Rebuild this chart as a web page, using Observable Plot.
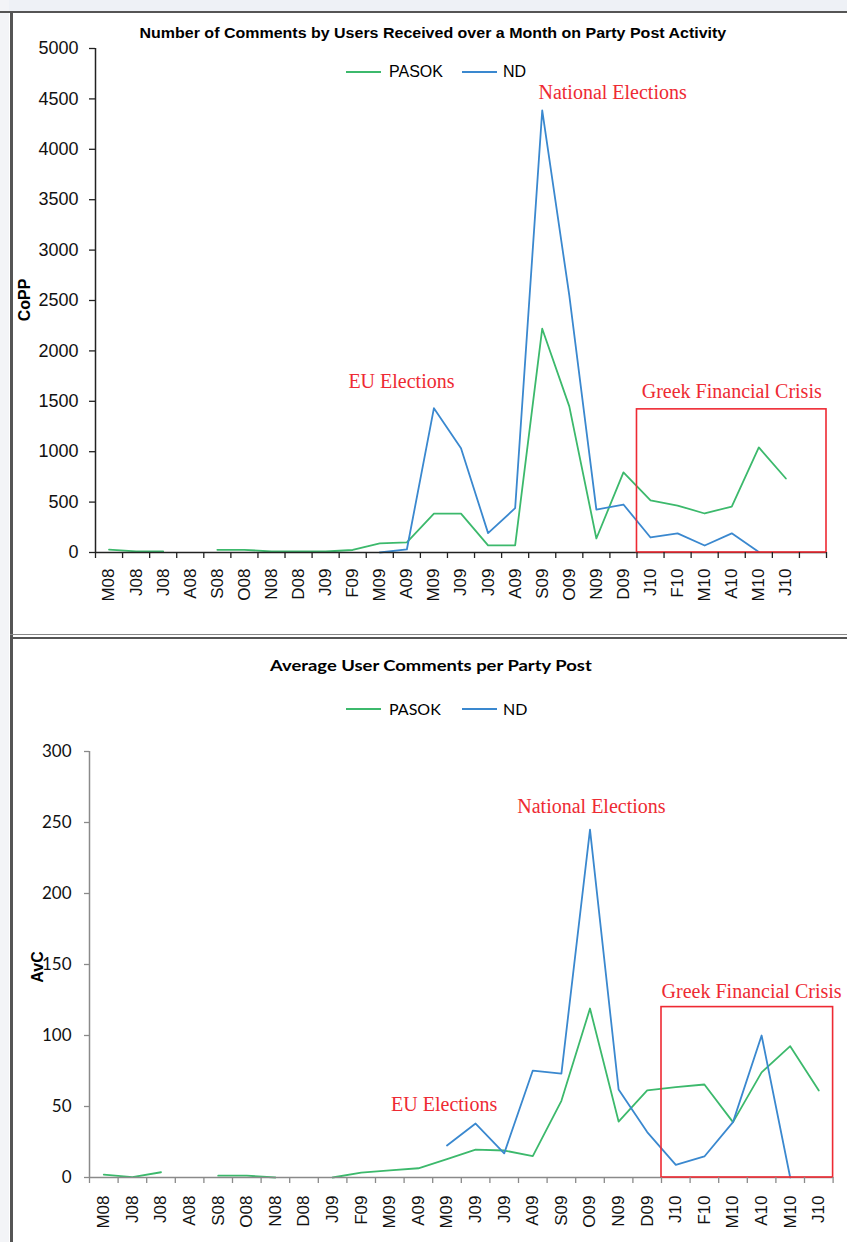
<!DOCTYPE html>
<html><head><meta charset="utf-8">
<script src="https://cdn.jsdelivr.net/npm/d3@7"></script>
<script src="https://cdn.jsdelivr.net/npm/@observablehq/plot@0.6"></script>
<style>
body{margin:0;background:#fff;}
#page{position:relative;width:847px;height:1242px;overflow:hidden;background:#fff;}
#page > svg, #page > figure{position:absolute;left:0;margin:0;}
.t{position:absolute;white-space:nowrap;line-height:1;}
</style></head><body><div id="page"></div>
<script>
// ---- data ----
const months = ["M08","J08","J08","A08","S08","O08","N08","D08","J09","F09","M09","A09","M09","J09","J09","A09","S09","O09","N09","D09","J10","F10","M10","A10","M10","J10"];
const series = ["PASOK","ND"];
const coppPasok = [28,12,10,null,27,27,10,10,10,25,90,100,385,385,70,70,2220,1450,139,795,516,466,387,456,1042,734];
const coppND = [null,null,null,null,null,null,null,null,null,null,0,30,1432,1035,192,440,4385,2550,426,476,149,190,69,190,5,null];
const avcPasok = [2,0.3,3.7,null,1.3,1.3,0,null,0,3.5,5,6.5,13,19.7,19,15,54,119,39.4,61.3,63.6,65.5,39,74,92.5,61.3];
const avcND = [null,null,null,null,null,null,null,null,null,null,null,null,22.5,38,17,75.3,73.2,245,62,32,8.9,14.8,39,100,0,null];
const coppTicks = [0,500,1000,1500,2000,2500,3000,3500,4000,4500,5000];
const avcTicks = [0,50,100,150,200,250,300];
const topNotes = ["National Elections","EU Elections","Greek Financial Crisis"];
const topNoteX = [19.1, 11.3, 23.5];
const topNoteY = [4560, 1700, 1600];
const botNotes = ["National Elections","EU Elections","Greek Financial Crisis"];
const botNoteX = [17.55, 12.4, 23.15];
const botNoteY = [261, 51, 131];
const topBox = {x1: 20, x2: 27, y1: 0, y2: 1420};
const botBox = {x1: 20, x2: 26, y1: 0, y2: 120};

const GREEN = "#3cb96c", BLUE = "#3a88cf", RED = "#ee2a33";
const page = document.getElementById("page");

function rows(vals){ return months.map((m,i)=>({x: i + 0.5, v: vals[i]})); }
function notes(t, xs, ys){ return t.map((s,i)=>({text:s, x:xs[i], y:ys[i]})); }

function chart({height, mt, mb, ml, mr, xMax, yMax, ticks, pas, nd, box, nts, axisColor, yFont, yFontSize, yPad, ySize, xPad}){
  return Plot.plot({
    width: 847, height,
    marginLeft: ml, marginRight: mr, marginTop: mt, marginBottom: mb,
    style: {background: "transparent", overflow: "visible", color: "#000"},
    x: {domain: [0, xMax], axis: null},
    y: {domain: [0, yMax], axis: null},
    marks: [
      Plot.line(rows(pas), {x: "x", y: "v", stroke: GREEN, strokeWidth: 1.8}),
      Plot.line(rows(nd), {x: "x", y: "v", stroke: BLUE, strokeWidth: 1.8}),
      Plot.ruleX([0], {stroke: axisColor, strokeWidth: 1.5}),
      Plot.ruleY([0], {stroke: axisColor, strokeWidth: 1.5}),
      Plot.rect([box], {x1: "x1", x2: "x2", y1: "y1", y2: "y2", fill: "none", stroke: RED, strokeWidth: 1.6}),
      Plot.axisY(ticks, {tickSize: ySize, tickPadding: yPad, stroke: axisColor, strokeWidth: 1.3, fill: "#111",
        fontSize: yFontSize, fontFamily: yFont, tickFormat: d => String(d), label: null}),
      Plot.axisX(d3.range(0, xMax + 1), {tickSize: 6, stroke: axisColor, strokeWidth: 1.3, tickFormat: () => "", label: null}),
      Plot.axisX(months.map((m,i)=>i + 0.5), {tickSize: 0, tickPadding: xPad, tickRotate: -90, fill: "#111",
        fontSize: 17, fontFamily: "Liberation Sans, Arial, sans-serif", tickFormat: d => months[Math.round(d - 0.5)], label: null}),
      Plot.text(nts, {x: "x", y: "y", text: "text", fill: RED, fontSize: 20, fontFamily: "Liberation Serif, serif", lineAnchor: "middle"})
    ]
  });
}

const topSvg = chart({height: 636, mt: 48, mb: 84, ml: 95, mr: 21, xMax: 27, yMax: 5000, ticks: coppTicks,
  pas: coppPasok, nd: coppND, box: topBox, nts: notes(topNotes, topNoteX, topNoteY), axisColor: "#222",
  yFont: "Liberation Sans, Arial, sans-serif", yFontSize: 18, yPad: 11, ySize: 6, xPad: 16});
topSvg.style.top = "0px";
page.appendChild(topSvg);

const botSvg = chart({height: 606, mt: 115, mb: 65, ml: 89, mr: 14.4, xMax: 26, yMax: 300, ticks: avcTicks,
  pas: avcPasok, nd: avcND, box: botBox, nts: notes(botNotes, botNoteX, botNoteY), axisColor: "#8a8a8a",
  yFont: "Lato, sans-serif", yFontSize: 17, yPad: 13, ySize: 5, xPad: 18});
botSvg.style.top = "636px";
page.appendChild(botSvg);

// frame lines (spreadsheet chart borders)
function box(l, t, w, h, c){ const d = document.createElement("div"); Object.assign(d.style, {position:"absolute", left:l+"px", top:t+"px", width:w+"px", height:h+"px", background:c}); page.appendChild(d); }
box(0, 0, 847, 12, "#eef1f6");
box(0, 0, 9, 1242, "#f3f4f7");
box(0, 11, 847, 2, "#555");
box(10, 11, 3, 1231, "#555");
box(10, 634, 837, 1, "#888");
box(10, 637, 837, 2, "#555");

// text helper
function txt(s, {cx, cy, font, size, weight = "normal", color = "#000", width, rotate}){
  const el = document.createElement("div");
  el.className = "t"; el.textContent = s;
  Object.assign(el.style, {fontFamily: font, fontSize: size + "px", fontWeight: weight, color});
  page.appendChild(el);
  const w = el.offsetWidth, h = el.offsetHeight;
  el.style.left = (cx - w / 2) + "px"; el.style.top = (cy - h / 2) + "px";
  let tr = "";
  if (rotate) tr += `rotate(${rotate}deg) `;
  if (width) tr += `scaleX(${width / w})`;
  el.style.transform = tr; el.style.transformOrigin = "center";
  return el;
}
function legend(cy, font){
  const items = [[GREEN, 346, 381, 389], [BLUE, 462, 497, 503]];
  items.forEach(([c, a, b, tx], i) => {
    box(a, cy - 1, b - a, 2, c);
    const el = document.createElement("div");
    el.className = "t"; el.textContent = series[i];
    Object.assign(el.style, {fontFamily: font, fontSize: "16px", color: "#000", left: tx + "px"});
    page.appendChild(el);
    el.style.top = (cy - el.offsetHeight / 2) + "px";
  });
}

txt("Number of Comments by Users Received over a Month on Party Post Activity",
  {cx: 433, cy: 33, font: "Liberation Sans, Arial, sans-serif", size: 14, weight: "bold", width: 587});
legend(72, "Liberation Sans, Arial, sans-serif");
txt("CoPP", {cx: 25, cy: 300, font: "Liberation Sans, Arial, sans-serif", size: 16, weight: "bold", rotate: -90});

txt("Average User Comments per Party Post",
  {cx: 431, cy: 665, font: "Lato, sans-serif", size: 16, weight: "bold", width: 322});
legend(709, "Lato, sans-serif");
txt("AvC", {cx: 37, cy: 967, font: "Liberation Sans, Arial, sans-serif", size: 16, weight: "bold", rotate: -90});
</script></body></html>
